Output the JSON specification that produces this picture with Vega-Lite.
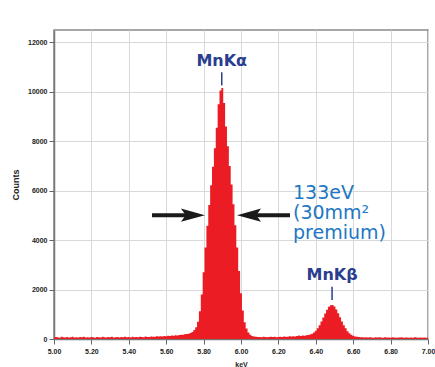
{
  "$schema": "https://vega.github.io/schema/vega-lite/v6.json",
  "width": 374,
  "height": 309,
  "autosize": {"type": "none"},
  "padding": {"left": 54, "top": 30, "right": 7, "bottom": 28},
  "background": "white",
  "config": {
    "view": {"stroke": "#8a8a8a", "strokeWidth": 1.5},
    "axis": {
      "labelFont": "Liberation Sans",
      "labelFontWeight": "bold",
      "labelFontSize": 7,
      "labelColor": "#222",
      "labelOverlap": false,
      "titleFont": "Liberation Sans",
      "titleFontWeight": "bold",
      "titleColor": "#222",
      "gridColor": "#d9d9d9",
      "gridWidth": 1,
      "gridOpacity": 1,
      "tickColor": "#666",
      "tickSize": 5,
      "domainColor": "#777",
      "domainWidth": 1.5
    }
  },
  "layer": [
    {
      "data": {"values": [
        {"keV":5.00,"counts":60},{"keV":5.01,"counts":85},{"keV":5.02,"counts":70},{"keV":5.03,"counts":55},{"keV":5.04,"counts":90},{"keV":5.05,"counts":75},{"keV":5.06,"counts":65},{"keV":5.07,"counts":80},{"keV":5.08,"counts":60},{"keV":5.09,"counts":70},
        {"keV":5.10,"counts":95},{"keV":5.11,"counts":65},{"keV":5.12,"counts":75},{"keV":5.13,"counts":60},{"keV":5.14,"counts":85},{"keV":5.15,"counts":70},{"keV":5.16,"counts":90},{"keV":5.17,"counts":65},{"keV":5.18,"counts":75},{"keV":5.19,"counts":60},
        {"keV":5.20,"counts":80},{"keV":5.21,"counts":70},{"keV":5.22,"counts":55},{"keV":5.23,"counts":85},{"keV":5.24,"counts":75},{"keV":5.25,"counts":65},{"keV":5.26,"counts":95},{"keV":5.27,"counts":70},{"keV":5.28,"counts":60},{"keV":5.29,"counts":80},
        {"keV":5.30,"counts":75},{"keV":5.31,"counts":90},{"keV":5.32,"counts":65},{"keV":5.33,"counts":70},{"keV":5.34,"counts":85},{"keV":5.35,"counts":60},{"keV":5.36,"counts":80},{"keV":5.37,"counts":75},{"keV":5.38,"counts":95},{"keV":5.39,"counts":70},
        {"keV":5.40,"counts":80},{"keV":5.41,"counts":65},{"keV":5.42,"counts":90},{"keV":5.43,"counts":75},{"keV":5.44,"counts":85},{"keV":5.45,"counts":70},{"keV":5.46,"counts":95},{"keV":5.47,"counts":80},{"keV":5.48,"counts":75},{"keV":5.49,"counts":100},
        {"keV":5.50,"counts":85},{"keV":5.51,"counts":80},{"keV":5.52,"counts":105},{"keV":5.53,"counts":90},{"keV":5.54,"counts":95},{"keV":5.55,"counts":110},{"keV":5.56,"counts":100},{"keV":5.57,"counts":115},{"keV":5.58,"counts":105},{"keV":5.59,"counts":120},
        {"keV":5.60,"counts":115},{"keV":5.61,"counts":130},{"keV":5.62,"counts":125},{"keV":5.63,"counts":140},{"keV":5.64,"counts":135},{"keV":5.65,"counts":150},{"keV":5.66,"counts":145},{"keV":5.67,"counts":160},{"keV":5.68,"counts":175},{"keV":5.69,"counts":170},
        {"keV":5.70,"counts":190},{"keV":5.71,"counts":200},{"keV":5.72,"counts":215},{"keV":5.73,"counts":240},{"keV":5.74,"counts":280},{"keV":5.75,"counts":360},{"keV":5.76,"counts":480},{"keV":5.77,"counts":700},{"keV":5.78,"counts":1120},{"keV":5.79,"counts":1800},
        {"keV":5.80,"counts":2700},{"keV":5.81,"counts":3700},{"keV":5.82,"counts":4580},{"keV":5.83,"counts":5420},{"keV":5.84,"counts":6220},{"keV":5.85,"counts":6970},{"keV":5.86,"counts":7720},{"keV":5.87,"counts":8550},{"keV":5.88,"counts":9500},{"keV":5.89,"counts":10050},
        {"keV":5.90,"counts":10150},{"keV":5.91,"counts":9550},{"keV":5.92,"counts":8600},{"keV":5.93,"counts":7800},{"keV":5.94,"counts":7000},{"keV":5.95,"counts":6250},{"keV":5.96,"counts":5450},{"keV":5.97,"counts":4600},{"keV":5.98,"counts":3700},{"keV":5.99,"counts":2750},
        {"keV":6.00,"counts":1850},{"keV":6.01,"counts":1150},{"keV":6.02,"counts":680},{"keV":6.03,"counts":420},{"keV":6.04,"counts":260},{"keV":6.05,"counts":170},{"keV":6.06,"counts":120},{"keV":6.07,"counts":100},{"keV":6.08,"counts":90},{"keV":6.09,"counts":80},
        {"keV":6.10,"counts":85},{"keV":6.11,"counts":75},{"keV":6.12,"counts":90},{"keV":6.13,"counts":80},{"keV":6.14,"counts":70},{"keV":6.15,"counts":85},{"keV":6.16,"counts":95},{"keV":6.17,"counts":80},{"keV":6.18,"counts":90},{"keV":6.19,"counts":75},
        {"keV":6.20,"counts":85},{"keV":6.21,"counts":95},{"keV":6.22,"counts":80},{"keV":6.23,"counts":100},{"keV":6.24,"counts":90},{"keV":6.25,"counts":95},{"keV":6.26,"counts":110},{"keV":6.27,"counts":100},{"keV":6.28,"counts":115},{"keV":6.29,"counts":105},
        {"keV":6.30,"counts":120},{"keV":6.31,"counts":140},{"keV":6.32,"counts":125},{"keV":6.33,"counts":145},{"keV":6.34,"counts":135},{"keV":6.35,"counts":150},{"keV":6.36,"counts":160},{"keV":6.37,"counts":180},{"keV":6.38,"counts":210},{"keV":6.39,"counts":260},
        {"keV":6.40,"counts":330},{"keV":6.41,"counts":430},{"keV":6.42,"counts":560},{"keV":6.43,"counts":710},{"keV":6.44,"counts":870},{"keV":6.45,"counts":1030},{"keV":6.46,"counts":1180},{"keV":6.47,"counts":1300},{"keV":6.48,"counts":1370},{"keV":6.49,"counts":1380},
        {"keV":6.50,"counts":1310},{"keV":6.51,"counts":1190},{"keV":6.52,"counts":1040},{"keV":6.53,"counts":880},{"keV":6.54,"counts":710},{"keV":6.55,"counts":560},{"keV":6.56,"counts":430},{"keV":6.57,"counts":310},{"keV":6.58,"counts":230},{"keV":6.59,"counts":170},
        {"keV":6.60,"counts":130},{"keV":6.61,"counts":105},{"keV":6.62,"counts":90},{"keV":6.63,"counts":80},{"keV":6.64,"counts":70},{"keV":6.65,"counts":75},{"keV":6.66,"counts":65},{"keV":6.67,"counts":70},{"keV":6.68,"counts":60},{"keV":6.69,"counts":75},
        {"keV":6.70,"counts":65},{"keV":6.71,"counts":55},{"keV":6.72,"counts":70},{"keV":6.73,"counts":60},{"keV":6.74,"counts":75},{"keV":6.75,"counts":65},{"keV":6.76,"counts":55},{"keV":6.77,"counts":70},{"keV":6.78,"counts":60},{"keV":6.79,"counts":65},
        {"keV":6.80,"counts":55},{"keV":6.81,"counts":70},{"keV":6.82,"counts":60},{"keV":6.83,"counts":50},{"keV":6.84,"counts":65},{"keV":6.85,"counts":60},{"keV":6.86,"counts":70},{"keV":6.87,"counts":55},{"keV":6.88,"counts":65},{"keV":6.89,"counts":60},
        {"keV":6.90,"counts":50},{"keV":6.91,"counts":65},{"keV":6.92,"counts":55},{"keV":6.93,"counts":70},{"keV":6.94,"counts":60},{"keV":6.95,"counts":55},{"keV":6.96,"counts":65},{"keV":6.97,"counts":50},{"keV":6.98,"counts":60},{"keV":6.99,"counts":55},{"keV":7.00,"counts":60}
      ]},
      "mark": {"type": "area", "interpolate": "step", "color": "#ec1c24", "clip": true},
      "encoding": {
        "x": {
          "field": "keV", "type": "quantitative",
          "scale": {"domain": [5, 7], "nice": false, "zero": false},
          "axis": {
            "values": [5, 5.2, 5.4, 5.6, 5.8, 6, 6.2, 6.4, 6.6, 6.8, 7],
            "tickCount": 20,
            "format": ".2f",
            "labelOverlap": false,
            "labelBound": false,
            "labelFlush": false,
            "labelPadding": 3,
            "title": "keV",
            "titleFontSize": 7,
            "titleBaseline": "top",
            "titleY": 21
          }
        },
        "y": {
          "field": "counts", "type": "quantitative",
          "scale": {"domain": [0, 12500], "nice": false},
          "axis": {
            "values": [0, 2000, 4000, 6000, 8000, 10000, 12000],
            "tickCount": 20,
            "format": "d",
            "labelOverlap": false,
            "labelPadding": 2,
            "title": "Counts",
            "titleFontSize": 9,
            "titleAngle": -90,
            "titleBaseline": "middle",
            "titleAlign": "center",
            "titleX": -39,
            "titleY": 154.5
          }
        }
      }
    },
    {
      "data": {"values": [
        {"keV": 5.524, "keV2": 5.743, "counts": 5010},
        {"keV": 6.043, "keV2": 6.262, "counts": 5010}
      ]},
      "mark": {"type": "rule", "color": "#1a1a1a", "strokeWidth": 4},
      "encoding": {
        "x": {"field": "keV", "type": "quantitative"},
        "x2": {"field": "keV2"},
        "y": {"field": "counts", "type": "quantitative"}
      }
    },
    {
      "data": {"values": [{"keV": 5.743, "counts": 5010}]},
      "mark": {"type": "point", "shape": "M1,0L-1,-0.55L-0.6,0L-1,0.55Z", "filled": true, "color": "#1a1a1a", "opacity": 1, "size": 576},
      "encoding": {
        "x": {"field": "keV", "type": "quantitative"},
        "y": {"field": "counts", "type": "quantitative"}
      }
    },
    {
      "data": {"values": [{"keV": 6.043, "counts": 5010}]},
      "mark": {"type": "point", "shape": "M-1,0L1,-0.55L0.6,0L1,0.55Z", "filled": true, "color": "#1a1a1a", "opacity": 1, "size": 576},
      "encoding": {
        "x": {"field": "keV", "type": "quantitative"},
        "y": {"field": "counts", "type": "quantitative"}
      }
    },
    {
      "data": {"values": [
        {"keV": 5.897, "counts": 10260, "counts2": 10790},
        {"keV": 6.487, "counts": 1575, "counts2": 2110}
      ]},
      "mark": {"type": "rule", "color": "#2a3d8f", "strokeWidth": 1.5},
      "encoding": {
        "x": {"field": "keV", "type": "quantitative"},
        "y": {"field": "counts", "type": "quantitative"},
        "y2": {"field": "counts2"}
      }
    },
    {
      "data": {"values": [
        {"keV": 5.897, "counts": 11230, "label": "MnKα"},
        {"keV": 6.487, "counts": 2585, "label": "MnKβ"}
      ]},
      "mark": {"type": "text", "font": "DejaVu Sans", "fontWeight": "bold", "fontSize": 16, "color": "#2a3d8f", "align": "center", "baseline": "middle"},
      "encoding": {
        "x": {"field": "keV", "type": "quantitative"},
        "y": {"field": "counts", "type": "quantitative"},
        "text": {"field": "label"}
      }
    },
    {
      "data": {"values": [
        {"keV": 6.278, "counts": 6260, "label": "133eV\n(30mm²\npremium)"}
      ]},
      "mark": {"type": "text", "font": "DejaVu Sans", "fontSize": 19, "lineHeight": 20, "lineBreak": "\n", "color": "#2277c4", "align": "left", "baseline": "top"},
      "encoding": {
        "x": {"field": "keV", "type": "quantitative"},
        "y": {"field": "counts", "type": "quantitative"},
        "text": {"field": "label"}
      }
    }
  ]
}
